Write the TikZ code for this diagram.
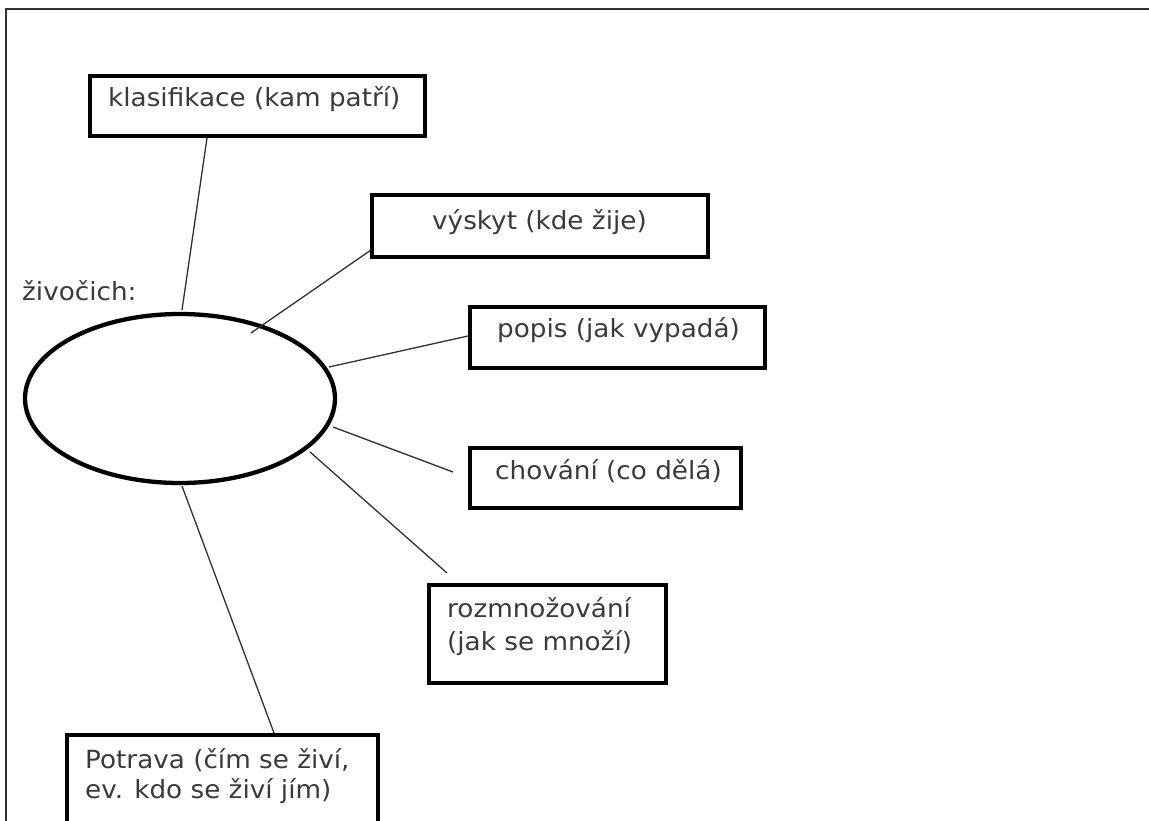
\documentclass[tikz,border=0pt]{standalone}
\usepackage{fontspec}
\setmainfont[FakeStretch=1.05]{DejaVu Sans}
\usetikzlibrary{shapes.geometric}
\definecolor{txtgray}{HTML}{3A3A3A}
\definecolor{linegray}{HTML}{303030}
\tikzset{
  x=1pt, y=1pt,
  boxnode/.style={draw=black, line width=4pt, rectangle, inner sep=0pt},
  txt/.style={text=txtgray, font=\fontsize{25}{31}\selectfont, inner sep=0pt, anchor=base west},
  conn/.style={draw=linegray, line width=1.3pt},
  framel/.style={draw=linegray, line width=2pt}
}
\begin{document}
\begin{tikzpicture}
\clip (0,0) rectangle (1149,-821);
\fill[white] (0,0) rectangle (1149,-821);
% frame
\coordinate (fr1) at (6,-900);
\coordinate (fr2) at (6,-9);
\coordinate (fr3) at (1160,-9);
\draw[framel] (fr1) -- (fr2) -- (fr3);
% boxes
\node[boxnode, minimum width=335pt, minimum height=60pt] (B1) at (257.5,-106) {};
\node[boxnode, minimum width=336pt, minimum height=62pt] (B2) at (540,-226) {};
\node[boxnode, minimum width=295pt, minimum height=61pt] (B3) at (617.5,-337.5) {};
\node[boxnode, minimum width=271pt, minimum height=60pt] (B4) at (605.5,-478) {};
\node[boxnode, minimum width=237pt, minimum height=98pt] (B5) at (547.5,-634) {};
\node[boxnode, minimum width=311pt, minimum height=120pt] (B6) at (222.5,-795) {};
% ellipse
\node[draw=black, line width=4.3pt, ellipse, minimum width=310pt, minimum height=169pt, inner sep=0pt] (E) at (180,-398.5) {};
% texts
\node[txt] (T1) at (108,-107) {klasifikace (kam patří)};
\node[txt] (T0) at (22,-301) {živočich:};
\node[txt] (T2) at (432,-230) {výskyt (kde žije)};
\node[txt] (T3) at (497,-337) {popis (jak vypadá)};
\node[txt] (T4) at (495,-479) {chování (co dělá)};
\node[txt] (T5a) at (447,-617) {rozmnožování};
\node[txt] (T5b) at (447,-650) {(jak se množí)};
\node[txt] (T6a) at (85,-768) {Potrava (čím se živí,};
\node[txt] (T6b) at (85,-798) {ev. kdo se živí jím)};
% connector ends
\coordinate (k1) at (207,-138);
\coordinate (k2) at (182,-310);
\coordinate (v1) at (251,-333);
\coordinate (v2) at (371,-250);
\coordinate (p1) at (329,-367);
\coordinate (p2) at (468,-336);
\coordinate (c1) at (333,-427);
\coordinate (c2) at (453,-472);
\coordinate (r1) at (310,-452);
\coordinate (r2) at (447,-573);
\coordinate (f1) at (182,-486);
\coordinate (f2) at (274,-733);
\draw[conn] (k1) -- (k2);
\draw[conn] (v1) -- (v2);
\draw[conn] (p1) -- (p2);
\draw[conn] (c1) -- (c2);
\draw[conn] (r1) -- (r2);
\draw[conn] (f1) -- (f2);
\end{tikzpicture}
\end{document}
